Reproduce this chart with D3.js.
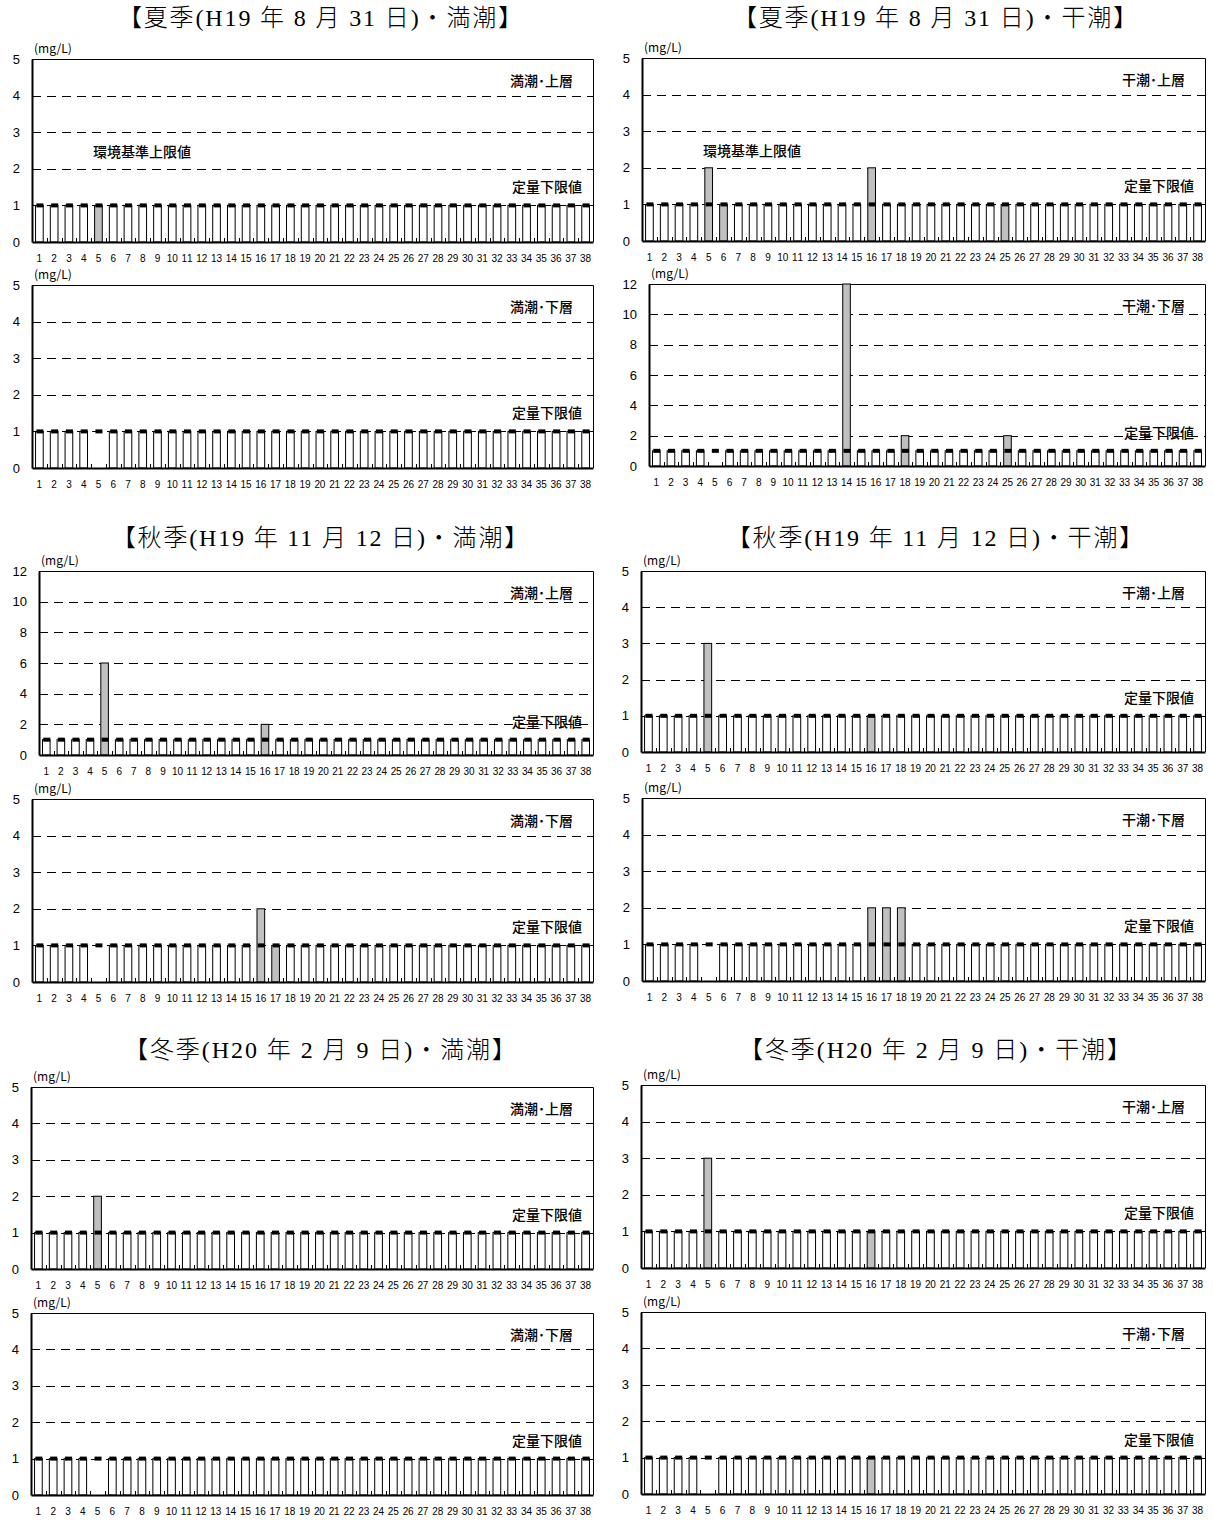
<!DOCTYPE html>
<html>
<head>
<meta charset="utf-8">
<script src="https://cdn.jsdelivr.net/npm/d3@7"></script>
<style>
  body { margin: 0; background: #fff; }
  svg { display: block; }
</style>
</head>
<body>
<svg id="chart" width="1213" height="1520"></svg>
<script>
// Station numbers along each x axis
const stations = ["1","2","3","4","5","6","7","8","9","10","11","12","13","14","15","16","17","18","19",
  "20","21","22","23","24","25","26","27","28","29","30","31","32","33","34","35","36","37","38"];

// "<1" = below the quantification limit (drawn as a white bar at the limit), null = not measured
const ND = "<1";
const detectionLimit = 1;
const envStandard = 2;

// Summer (H19/8/31)
const summerHighUpper = [ND,ND,ND,ND,1,ND,ND,ND,ND,ND,ND,ND,ND,ND,ND,ND,ND,ND,ND,ND,ND,ND,ND,ND,ND,ND,ND,ND,ND,ND,ND,ND,ND,ND,ND,ND,ND,ND];
const summerHighLower = [ND,ND,ND,ND,null,ND,ND,ND,ND,ND,ND,ND,ND,ND,ND,ND,ND,ND,ND,ND,ND,ND,ND,ND,ND,ND,ND,ND,ND,ND,ND,ND,ND,ND,ND,ND,ND,ND];
const summerLowUpper  = [ND,ND,ND,ND,2,1,ND,ND,ND,ND,ND,ND,ND,ND,ND,2,ND,ND,ND,ND,ND,ND,ND,ND,1,ND,ND,ND,ND,ND,ND,ND,ND,ND,ND,ND,ND,ND];
const summerLowLower  = [ND,ND,ND,ND,null,ND,ND,ND,ND,ND,ND,ND,ND,12,ND,ND,ND,2,ND,ND,ND,ND,ND,ND,2,ND,ND,ND,ND,ND,ND,ND,ND,ND,ND,ND,ND,ND];
// Autumn (H19/11/12)
const autumnHighUpper = [ND,ND,ND,ND,6,ND,ND,ND,ND,ND,ND,ND,ND,ND,ND,2,ND,ND,ND,ND,ND,ND,ND,ND,ND,ND,ND,ND,ND,ND,ND,ND,ND,ND,ND,ND,ND,ND];
const autumnHighLower = [ND,ND,ND,ND,null,ND,ND,ND,ND,ND,ND,ND,ND,ND,ND,2,1,ND,ND,ND,ND,ND,ND,ND,ND,ND,ND,ND,ND,ND,ND,ND,ND,ND,ND,ND,ND,ND];
const autumnLowUpper  = [ND,ND,ND,ND,3,ND,ND,ND,ND,ND,ND,ND,ND,ND,ND,1,ND,ND,ND,ND,ND,ND,ND,ND,ND,ND,ND,ND,ND,ND,ND,ND,ND,ND,ND,ND,ND,ND];
const autumnLowLower  = [ND,ND,ND,ND,null,ND,ND,ND,ND,ND,ND,ND,ND,ND,ND,2,2,2,ND,ND,ND,ND,ND,ND,ND,ND,ND,ND,ND,ND,ND,ND,ND,ND,ND,ND,ND,ND];
// Winter (H20/2/9)
const winterHighUpper = [ND,ND,ND,ND,2,ND,ND,ND,ND,ND,ND,ND,ND,ND,ND,ND,ND,ND,ND,ND,ND,ND,ND,ND,ND,ND,ND,ND,ND,ND,ND,ND,ND,ND,ND,ND,ND,ND];
const winterHighLower = [ND,ND,ND,ND,null,ND,ND,ND,ND,ND,ND,ND,ND,ND,ND,ND,ND,ND,ND,ND,ND,ND,ND,ND,ND,ND,ND,ND,ND,ND,ND,ND,ND,ND,ND,ND,ND,ND];
const winterLowUpper  = [ND,ND,ND,ND,3,ND,ND,ND,ND,ND,ND,ND,ND,ND,ND,1,ND,ND,ND,ND,ND,ND,ND,ND,ND,ND,ND,ND,ND,ND,ND,ND,ND,ND,ND,ND,ND,ND];
const winterLowLower  = [ND,ND,ND,ND,null,ND,ND,ND,ND,ND,ND,ND,ND,ND,ND,1,ND,ND,ND,ND,ND,ND,ND,ND,ND,ND,ND,ND,ND,ND,ND,ND,ND,ND,ND,ND,ND,ND];

// Section titles
const titles = [
  "【夏季(H19 年 8 月 31 日)・満潮】", "【夏季(H19 年 8 月 31 日)・干潮】",
  "【秋季(H19 年 11 月 12 日)・満潮】", "【秋季(H19 年 11 月 12 日)・干潮】",
  "【冬季(H20 年 2 月 9 日)・満潮】", "【冬季(H20 年 2 月 9 日)・干潮】"
];
const layerNames = ["満潮･上層", "満潮･下層", "干潮･上層", "干潮･下層"];
const yTicks5 = [0, 1, 2, 3, 4, 5];
const yTicks12 = [0, 2, 4, 6, 8, 10, 12];

const svg = d3.select("#chart");
const JP = "'Noto Sans CJK JP', 'Noto Sans', sans-serif";
const LATIN = "'Liberation Sans', Arial, sans-serif";

// Panel frames: plot-area edges in page pixels
const panels = [
  { data: summerHighUpper, name: layerNames[0], ticks: yTicks5,  x0: 32,  x1: 593,  top: 59,   bottom: 242,  env: true },
  { data: summerHighLower, name: layerNames[1], ticks: yTicks5,  x0: 32,  x1: 593,  top: 285,  bottom: 468 },
  { data: summerLowUpper,  name: layerNames[2], ticks: yTicks5,  x0: 642, x1: 1205, top: 58,   bottom: 241,  env: true },
  { data: summerLowLower,  name: layerNames[3], ticks: yTicks12, x0: 649, x1: 1205, top: 284,  bottom: 466 },
  { data: autumnHighUpper, name: layerNames[0], ticks: yTicks12, x0: 39,  x1: 593,  top: 571,  bottom: 755 },
  { data: autumnHighLower, name: layerNames[1], ticks: yTicks5,  x0: 32,  x1: 593,  top: 799,  bottom: 982 },
  { data: autumnLowUpper,  name: layerNames[2], ticks: yTicks5,  x0: 641, x1: 1205, top: 571,  bottom: 752 },
  { data: autumnLowLower,  name: layerNames[3], ticks: yTicks5,  x0: 642, x1: 1205, top: 798,  bottom: 981 },
  { data: winterHighUpper, name: layerNames[0], ticks: yTicks5,  x0: 31,  x1: 593,  top: 1087, bottom: 1269 },
  { data: winterHighLower, name: layerNames[1], ticks: yTicks5,  x0: 31,  x1: 593,  top: 1313, bottom: 1495 },
  { data: winterLowUpper,  name: layerNames[2], ticks: yTicks5,  x0: 641, x1: 1205, top: 1085, bottom: 1268 },
  { data: winterLowLower,  name: layerNames[3], ticks: yTicks5,  x0: 641, x1: 1205, top: 1312, bottom: 1494 }
];

const titlePos = [
  { x: 320, y: 18 }, { x: 935, y: 18 },
  { x: 320, y: 538 }, { x: 935, y: 538 },
  { x: 320, y: 1050 }, { x: 935, y: 1050 }
];

// width in em units: full-width glyphs 1em, half-width 0.5em
const emWidth = s => Array.from(s).reduce((w, c) => w + (c.charCodeAt(0) > 0xff ? 1 : 0.5), 0);

svg.selectAll("text.title").data(titles).join("text")
  .attr("class", "title")
  .attr("x", (d, i) => titlePos[i].x)
  .attr("y", (d, i) => titlePos[i].y)
  .attr("text-anchor", "middle")
  .attr("dominant-baseline", "central")
  .attr("textLength", d => emWidth(d) * 24.5)
  .attr("lengthAdjust", "spacing")
  .style("font-family", "'Liberation Serif', 'Noto Sans CJK JP', serif")
  .style("font-weight", 300)
  .style("font-size", "24px")
  .attr("fill", "#000")
  .text(d => d);

function drawPanel(p) {
  const g = svg.append("g");
  const yMax = p.ticks[p.ticks.length - 1];
  const x = d3.scaleBand().domain(stations).range([p.x0, p.x1]).paddingInner(0).paddingOuter(0);
  const y = d3.scaleLinear().domain([0, yMax]).range([p.bottom, p.top]);

  // dashed gridlines
  g.selectAll("line.grid").data(p.ticks.filter(t => t > 0 && t < yMax)).join("line")
    .attr("x1", p.x0).attr("x2", p.x1)
    .attr("y1", d => Math.round(y(d)) + 0.5).attr("y2", d => Math.round(y(d)) + 0.5)
    .attr("stroke", "#000").attr("stroke-width", 1).attr("stroke-dasharray", "9,6");

  // plot frame (top and right)
  g.append("path")
    .attr("d", `M${p.x0},${Math.round(p.top) + 0.5}H${p.x1 + 0.5}V${p.bottom}`)
    .attr("fill", "none").attr("stroke", "#000").attr("stroke-width", 1);

  // bars
  const bw = x.bandwidth();
  const barW = bw * 0.52;
  const rows = stations.map((s, i) => ({ s, v: p.data[i] })).filter(d => d.v !== null);
  g.selectAll("rect.bar").data(rows).join("rect")
    .attr("x", d => x(d.s) + (bw - barW) / 2)
    .attr("width", barW)
    .attr("y", d => y(d.v === ND ? detectionLimit : d.v))
    .attr("height", d => p.bottom - y(d.v === ND ? detectionLimit : d.v))
    .attr("fill", d => d.v === ND ? "#fff" : "#c0c0c0")
    .attr("stroke", "#000").attr("stroke-width", 1);

  // quantification-limit markers
  g.selectAll("rect.mark").data(stations).join("rect")
    .attr("x", d => x(d) + bw / 2 - 3)
    .attr("width", 7)
    .attr("y", y(detectionLimit) - 2)
    .attr("height", 4)
    .attr("fill", "#000");

  // inner category tick marks
  g.selectAll("line.ctick").data(stations.slice(1)).join("line")
    .attr("x1", d => Math.round(x(d)) + 0.5).attr("x2", d => Math.round(x(d)) + 0.5)
    .attr("y1", p.bottom).attr("y2", p.bottom - 4)
    .attr("stroke", "#000").attr("stroke-width", 1);

  // y axis
  const ya = g.append("g").attr("transform", `translate(${p.x0},0)`)
    .call(d3.axisLeft(y).tickValues(p.ticks).tickFormat(d3.format("d")).tickSize(0).tickPadding(12));
  ya.select(".domain").attr("stroke", "#000").attr("stroke-width", 2);
  ya.selectAll("text").style("font-family", LATIN).style("font-size", "13px").attr("fill", "#000");

  // x axis
  const xa = g.append("g").attr("transform", `translate(0,${p.bottom})`)
    .call(d3.axisBottom(x).tickSize(0).tickPadding(13));
  xa.select(".domain").attr("stroke", "#000").attr("stroke-width", 2);
  xa.selectAll("text").style("font-family", LATIN).style("font-size", "10px")
    .attr("fill", "#000").attr("textLength", d => d.length > 1 ? 11 : null);

  // unit
  g.append("text").attr("x", p.x0 + 2).attr("y", p.top - 6)
    .style("font-family", JP).style("font-size", "12px").attr("fill", "#000").text("(mg/L)");

  // layer name and limit captions
  g.append("text").attr("x", p.x1 - 20).attr("y", p.top + 21)
    .attr("text-anchor", "end").attr("dominant-baseline", "central")
    .style("font-family", JP).style("font-weight", 500).style("font-size", "14px").attr("fill", "#000")
    .text(p.name);
  g.append("text").attr("x", p.x1 - 11).attr("y", y(detectionLimit) - 19)
    .attr("text-anchor", "end").attr("dominant-baseline", "central")
    .style("font-family", JP).style("font-weight", 500).style("font-size", "14px").attr("fill", "#000")
    .text("定量下限値");
  if (p.env) {
    g.append("text").attr("x", p.x0 + 61).attr("y", y(envStandard) - 18)
      .attr("dominant-baseline", "central")
      .style("font-family", JP).style("font-weight", 500).style("font-size", "14px").attr("fill", "#000")
      .text("環境基準上限値");
  }
}

panels.forEach(drawPanel);
</script>
</body>
</html>
